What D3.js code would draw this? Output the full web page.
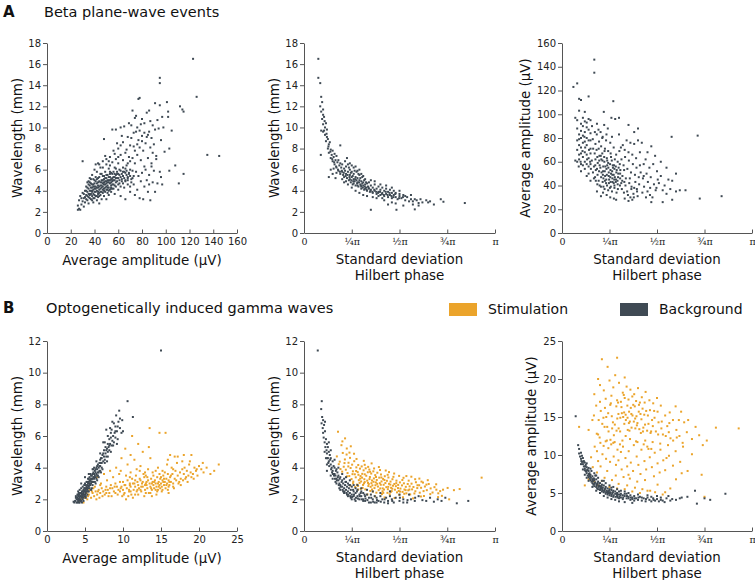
<!DOCTYPE html>
<html><head><meta charset="utf-8">
<script src="https://cdn.jsdelivr.net/npm/d3@7"></script>
<style>body{margin:0;background:#fff}svg{display:block}</style>
</head><body><svg id="c" width="755" height="580"></svg>
<script>
// ---------- DATA ----------
// Beta plane-wave events: [average amplitude (µV), wavelength (mm)]
const betaAmpWl = [[26,2.2],[27,2.3],[28,2.2],[26,2.6],[27,3.1],[28,3.5],[29,2.7],[30,3.0],[30,3.8],[31,2.5],[31,3.3],[32,4.0],[32,2.9],[33,3.6],[33,4.4],[34,3.1],[34,3.9],[34,4.8],[35,3.4],[35,4.2],[35,2.8],[36,3.7],[36,4.5],[36,5.2],[37,3.2],[37,4.0],[37,4.7],[38,3.5],[38,4.3],[38,3.9],[38,5.5],[39,2.9],[39,4.1],[39,4.6],[40,3.6],[40,4.2],[40,5.0],[40,3.3],[41,3.9],[41,4.4],[41,6.5],[42,3.1],[42,4.7],[42,4.0],[42,5.8],[43,3.7],[43,4.3],[43,5.2],[44,2.8],[44,4.1],[44,4.9],[44,3.5],[45,4.5],[45,3.9],[45,5.6],[45,6.2],[46,3.2],[46,4.3],[46,5.0],[47,4.7],[47,3.8],[47,5.4],[47,6.8],[48,4.2],[48,5.1],[48,3.5],[48,8.9],[49,4.6],[49,5.8],[49,3.9],[50,4.4],[50,5.2],[50,4.9],[50,6.5],[50,3.2],[51,4.1],[51,5.5],[51,4.8],[52,5.0],[52,4.3],[52,6.1],[52,3.6],[53,4.7],[53,5.3],[53,7.2],[54,4.5],[54,5.1],[54,3.9],[55,4.9],[55,5.6],[55,6.7],[55,4.2],[56,5.3],[56,4.6],[56,7.8],[57,5.0],[57,3.7],[57,6.2],[58,5.5],[58,4.4],[58,7.0],[59,4.9],[59,5.8],[60,5.2],[60,4.1],[60,6.6],[60,8.0],[61,5.5],[61,4.7],[62,5.3],[62,7.4],[62,3.5],[63,5.6],[63,4.9],[64,5.4],[64,6.9],[64,8.6],[65,5.2],[65,4.3],[66,5.7],[66,7.6],[66,3.2],[67,5.5],[67,6.4],[68,5.3],[68,9.1],[68,4.6],[69,5.6],[69,7.2],[70,5.4],[70,6.0],[70,8.3],[70,3.9],
[58,9.8],[62,8.3],[65,10.1],[67,7.9],[69,10.4],[71,9.0],[72,11.6],[73,8.2],[74,10.9],[74,6.6],[75,9.6],[76,7.4],[76,10.0],[77,8.8],[78,12.8],[78,9.7],[79,6.9],[80,9.2],[80,10.8],[81,7.8],[82,9.5],[82,6.3],[83,8.5],[84,11.4],[85,9.3],[85,7.1],[86,9.6],[86,11.6],[87,8.1],[88,9.0],[88,6.6],[89,10.2],[89,7.6],[90,8.4],[91,12.3],[91,9.8],[92,7.3],[93,10.7],[94,9.9],[95,12.1],[96,8.8],[97,11.0],[98,10.0],[101,12.4],[102,11.5],[102,11.0],[103,8.0],[105,9.7],[112,12.0],[114,11.7],[115,11.5],[95,14.7],[95,14.2],[123,16.5],[126,12.9],[77,12.7],
[72,5.2],[73,4.6],[74,3.6],[75,5.8],[76,4.1],[77,5.4],[78,3.3],[79,4.9],[80,5.7],[81,3.2],[82,4.4],[83,6.0],[84,5.0],[85,3.9],[86,5.5],[86,4.6],[87,3.1],[88,6.3],[89,4.8],[90,5.9],[91,3.9],[92,7.0],[93,4.7],[95,5.8],[96,5.3],[97,4.6],[99,7.7],[103,5.9],[108,6.4],[111,4.7],[115,5.6],[135,7.4],[145,7.3],[30,6.8],
[63,5.1],[65,5.8],[66,5.0],[67,5.9],[68,5.2],[69,5.7],[71,5.1],[72,5.9],[73,5.4],[71,4.8],[70,4.4],[64,5.8],[61,6.0],[59,5.6],[57,5.6],[58,6.1],
[36,4.0],[37,4.3],[38,4.6],[39,3.7],[40,4.7],[41,4.2],[42,3.5],[43,4.8],[44,4.4],[45,4.2],[46,4.8],[47,4.4],[48,4.0],[49,5.2],[50,4.7],[51,5.0],[52,4.8],[53,5.0],[54,4.8],[55,5.2],[56,5.0],[57,4.5],[33,3.2],[34,4.3],[35,3.7],[36,3.3],[39,5.1],[41,5.3],[43,3.9],[46,5.6],[48,4.6],[51,3.8],[53,4.1],[54,5.7],[40,6.0],[44,6.5],[52,6.8],[57,7.5],[60,7.2],[59,8.5],[63,9.2],[62,10.0],[55,9.8],[43,6.6],[47,6.2],[50,7.0],[53,6.4],[49,7.3],
[35,4.6],[36,3.6],[37,5.1],[38,3.1],[39,4.4],[40,3.9],[41,4.9],[42,4.3],[43,3.4],[44,5.3],[45,4.8],[46,3.9],[47,5.0],[48,4.8],[49,4.3],[50,5.5],[51,4.5],[52,4.0],[53,5.6],[54,4.2],[55,4.6],[56,5.8],[57,5.3],[58,4.8],[59,5.2],[60,4.6],[61,5.0],[62,4.4],[64,4.7],[66,4.9],[68,5.0],[29,3.3],[31,3.7],[33,4.0],[35,4.9],[37,3.7],[39,3.3],[41,3.5],[43,4.5],[45,3.6],[47,4.1],[49,4.9],[51,4.3],[53,5.8],[55,5.0],[32,3.4],[34,3.5],[36,4.8],[38,4.0],[40,4.4],[42,5.1],[44,3.8],[46,4.5],[48,5.4],[50,4.1],[52,5.3],[54,4.3],[56,4.2],[58,5.2],[60,5.6],[62,5.9],[64,6.2],[66,6.1],[68,6.6],[70,6.8],[72,7.1],[74,7.8],[76,8.4],[78,8.1],[80,8.7],[73,9.5],[71,10.2],[75,11.1],[82,10.4],[84,9.1],[87,10.6],[79,10.3]];

// Beta: [SD of Hilbert phase (units of π), wavelength (mm)]
const betaSdWl = [[0.075,16.5],[0.075,14.7],[0.085,14.2],[0.09,12.9],[0.095,12.4],[0.085,12.0],[0.09,11.5],[0.1,11.7],[0.1,11.2],[0.095,10.8],[0.105,11.0],[0.1,10.3],[0.11,10.0],[0.105,9.7],[0.115,10.4],[0.09,9.7],[0.11,9.3],[0.12,9.8],[0.12,9.1],[0.115,8.7],[0.125,8.9],[0.13,8.4],[0.125,8.0],[0.135,8.6],[0.14,7.9],[0.13,7.6],[0.145,7.4],[0.15,7.8],[0.14,7.1],[0.155,7.2],[0.16,7.5],[0.15,6.8],[0.165,6.9],[0.17,7.3],[0.16,6.5],[0.175,6.7],[0.18,6.9],[0.17,6.2],[0.185,6.4],[0.19,6.6],[0.18,5.9],[0.195,6.2],[0.2,6.5],[0.19,5.6],[0.2,5.8],[0.21,6.1],[0.205,5.5],[0.21,5.3],[0.088,7.4],[0.1,9.6],[0.13,5.3],[0.15,5.6],[0.14,6.0],[0.165,5.2],[0.19,8.3],[0.17,5.7],[0.155,6.1],
[0.215,5.9],[0.22,5.6],[0.22,6.3],[0.225,5.2],[0.23,5.8],[0.23,6.5],[0.235,5.0],[0.24,5.5],[0.24,6.0],[0.245,4.8],[0.25,5.3],[0.25,5.8],[0.255,4.6],[0.26,5.1],[0.26,5.6],[0.265,4.9],[0.27,5.3],[0.27,4.5],[0.275,5.8],[0.28,4.8],[0.28,5.2],[0.285,4.4],[0.29,5.0],[0.29,5.5],[0.295,4.6],[0.3,4.9],[0.3,4.2],[0.305,5.3],[0.31,4.5],[0.31,4.8],[0.315,4.1],[0.32,4.6],[0.32,5.1],[0.325,4.3],[0.33,4.7],[0.33,4.0],[0.335,4.4],[0.34,4.8],[0.34,4.2],[0.345,3.9],[0.35,4.5],[0.35,4.1],[0.215,6.8],[0.225,7.1],[0.24,6.6],[0.26,6.2],[0.28,5.9],[0.3,5.6],[0.23,4.6],[0.25,4.3],[0.27,4.0],[0.29,3.8],[0.31,3.6],[0.33,3.5],[0.2,5.1],[0.21,4.8],[0.235,6.2],[0.245,5.7],[0.255,5.4],[0.265,5.9],[0.275,5.0],[0.285,5.6],[0.295,5.2],[0.305,4.7],[0.315,5.0],[0.325,4.8],[0.22,4.9],[0.24,5.1],[0.26,4.7],[0.28,4.5],[0.3,4.4],[0.32,4.2],[0.25,6.4],[0.27,6.3],[0.29,6.0],[0.31,5.4],
[0.36,4.3],[0.36,3.8],[0.37,4.0],[0.37,4.6],[0.38,3.7],[0.38,4.2],[0.39,3.9],[0.39,4.4],[0.4,3.6],[0.4,4.1],[0.41,3.8],[0.41,4.3],[0.42,3.5],[0.42,4.0],[0.43,3.7],[0.43,4.2],[0.44,3.4],[0.44,3.9],[0.45,3.6],[0.45,4.1],[0.46,3.8],[0.46,3.3],[0.47,3.6],[0.47,4.0],[0.48,3.4],[0.48,3.8],[0.49,3.2],[0.5,3.5],[0.5,3.7],[0.51,3.3],[0.52,3.6],[0.53,3.1],[0.54,3.4],[0.55,3.0],[0.35,2.2],[0.46,2.9],[0.42,3.1],[0.38,3.3],[0.36,3.4],[0.44,2.7],[0.48,2.8],[0.52,2.6],[0.37,4.9],[0.4,4.6],[0.43,4.5],[0.46,4.3],[0.5,4.0],[0.35,5.0],[0.39,3.5],[0.41,3.3],
[0.56,3.2],[0.57,3.0],[0.58,3.2],[0.59,3.1],[0.6,2.84],[0.61,3.2],[0.62,2.9],[0.6,2.6],[0.58,2.24],[0.64,3.1],[0.65,2.9],[0.66,3.0],[0.68,2.7],[0.484,2.2],[0.57,2.7],[0.716,3.2],[0.73,2.96],[0.842,2.84],[0.53,3.5],[0.56,3.6],
[0.108,10.6],[0.118,9.4],[0.128,8.2],[0.138,7.7],[0.148,7.0],[0.158,6.7],[0.168,6.3],[0.178,6.0],[0.188,5.8],[0.198,5.9],[0.208,5.7],[0.218,5.4],[0.228,5.5],[0.238,5.3],[0.248,5.0],[0.258,4.9],[0.268,5.1],[0.278,4.7],[0.288,4.8],[0.298,4.5],[0.308,4.3],[0.318,4.4],[0.328,4.1],[0.338,4.3],[0.348,4.0],[0.358,3.9],[0.368,4.1],[0.378,3.9],[0.388,3.8],[0.398,3.9],[0.408,3.7],[0.418,3.6],[0.428,3.9],[0.438,3.6],[0.448,3.8],[0.458,3.5],[0.468,3.4],[0.478,3.7],[0.498,3.3],[0.518,3.4]];

// Beta: [SD of Hilbert phase (units of π), average amplitude (µV)]
const betaSdAmp = [[0.06,123],[0.08,126],[0.09,113],[0.1,112],[0.14,115],[0.17,146],[0.17,135],[0.12,102],[0.07,97],[0.08,95],[0.09,103],[0.1,92],[0.11,97],[0.08,88],[0.09,83],[0.1,86],[0.11,90],[0.12,94],[0.13,89],[0.14,96],[0.15,95],[0.08,78],[0.09,74],[0.1,80],[0.11,82],[0.12,85],[0.13,80],[0.14,87],[0.15,84],[0.08,70],[0.09,66],[0.1,72],[0.11,76],[0.12,68],[0.13,74],[0.14,78],[0.15,71],[0.08,60],[0.09,62],[0.1,58],[0.11,64],[0.12,60],[0.13,66],[0.14,63],[0.15,67],[0.1,52],[0.12,54],[0.13,48],[0.14,56],[0.15,58],[0.07,61],[0.1,67],[0.12,77],[0.13,93],[0.11,57],[0.14,50],[0.15,44],[0.15,78],[0.09,79],[0.13,58],
[0.158,90],[0.173,85],[0.184,92],[0.192,87],[0.203,85],[0.214,81],[0.222,91],[0.234,83],[0.241,88],[0.162,79],[0.176,75],[0.183,83],[0.195,77],[0.206,73],[0.212,80],[0.226,71],[0.232,78],[0.243,69],[0.254,76],[0.263,81],[0.272,72],[0.164,71],[0.172,67],[0.186,64],[0.193,71],[0.204,65],[0.213,61],[0.224,69],[0.236,63],[0.243,59],[0.256,67],[0.262,61],[0.274,57],[0.285,66],[0.293,60],[0.302,69],[0.157,61],[0.175,57],[0.184,54],[0.196,61],[0.202,55],[0.216,52],[0.223,60],[0.234,54],[0.246,51],[0.253,58],[0.264,52],[0.272,49],[0.283,56],[0.296,50],[0.304,58],[0.163,51],[0.174,47],[0.187,49],[0.193,44],[0.206,47],[0.214,43],[0.227,48],[0.233,45],[0.247,42],[0.254,47],[0.266,43],[0.276,40],[0.284,45],[0.293,41],[0.306,46],[0.186,41],[0.205,39],[0.224,37],[0.237,40],[0.243,36],[0.257,39],[0.263,35],[0.276,38],[0.287,34],[0.294,37],[0.305,40],[0.216,34],[0.235,32],[0.254,30],[0.205,31],[0.273,29],[0.285,28],[0.184,35],[0.265,46],[0.246,48],[0.225,52],[0.207,62],[0.255,53],[0.276,54],[0.217,56],[0.195,52],[0.236,49],[0.267,57],[0.286,51],[0.307,53],[0.176,62],[0.197,65],[0.295,47],[0.226,44],[0.244,55],[0.265,49],[0.256,43],[0.275,45],[0.215,49],[0.283,43],[0.26,97],[0.27,111],[0.22,102],[0.28,96],[0.3,97],[0.3,83],[0.32,74],
[0.228,56],[0.238,57],[0.248,45],[0.258,50],[0.268,55],[0.278,47],[0.288,53],[0.218,46],[0.208,51],[0.198,57],[0.188,59],[0.178,53],[0.168,56],[0.238,61],[0.258,64],[0.278,62],[0.298,55],[0.318,48],[0.328,43],[0.232,42],[0.252,38],[0.272,42],[0.292,44],[0.312,42],[0.222,64],[0.212,67],[0.182,70],[0.142,70],[0.132,62],[0.122,72],[0.118,81],[0.108,69],[0.098,60],[0.088,56],[0.152,54],[0.148,60],[0.168,46],[0.178,44],[0.198,40],[0.218,39],
[0.313,62],[0.324,57],[0.332,64],[0.344,54],[0.352,61],[0.363,51],[0.373,58],[0.384,49],[0.392,55],[0.404,47],[0.306,50],[0.317,44],[0.327,53],[0.336,46],[0.354,42],[0.357,46],[0.366,39],[0.386,43],[0.394,37],[0.406,41],[0.315,37],[0.326,34],[0.334,40],[0.343,35],[0.347,32],[0.365,37],[0.376,33],[0.378,30],[0.395,35],[0.398,31],[0.33,29],[0.35,27],[0.37,28],[0.31,72],[0.33,70],[0.35,68],[0.37,66],[0.39,63],[0.41,68],[0.43,58],[0.34,78],[0.36,76],[0.38,75],[0.4,78],[0.42,76],[0.35,91],[0.38,85],[0.4,88],[0.414,51],[0.426,46],[0.432,39],[0.445,50],[0.452,43],[0.464,38],[0.467,47],[0.484,41],[0.493,36],[0.504,45],[0.423,34],[0.442,30],[0.463,32],[0.476,30],[0.497,38],[0.44,62],[0.46,55],[0.48,58],[0.5,52],[0.45,68],[0.47,73],[0.49,65],[0.41,57],[0.43,48],[0.45,35],[0.47,26],[0.38,38],[0.36,30],
[0.51,42],[0.52,48],[0.53,36],[0.54,40],[0.55,33],[0.56,45],[0.57,37],[0.58,28],[0.6,35],[0.6,50],[0.62,36],[0.65,36],[0.577,81],[0.55,55],[0.52,60],[0.53,26],[0.714,82],[0.725,29],[0.84,31],[0.58,44]];

// Optogenetic gamma waves: [average amplitude (µV), wavelength (mm)]
const gammaStimAmpWl = [[4.2,1.9],[4.5,2.0],[4.8,1.8],[5.0,2.1],[5.3,2.0],[5.5,2.3],[5.8,2.1],[6.0,2.4],[6.2,2.2],[6.4,2.5],[6.6,2.3],[6.8,2.6],[7.0,2.4],[7.2,2.7],[7.4,2.5],[7.6,2.3],[7.8,2.8],[8.0,2.6],[8.2,2.4],[8.4,2.9],[8.6,2.7],[8.8,2.5],[9.0,3.0],[9.2,2.8],[9.4,2.6],[5.6,2.6],[6.3,2.8],[7.1,3.0],[7.9,3.2],[8.7,3.4],[9.5,3.6],[6.9,2.1],[8.1,2.2],[5.2,2.4],[4.7,2.3],[6.6,3.4],[7.5,3.6],[8.3,3.8],[9.1,4.0],[9.8,4.6],[10.3,5.2],[11.2,6.0],[13.5,6.5],[15.6,6.2],[13.4,5.3],[12.0,5.5],[9.7,3.8],[10.6,4.2],[11.5,4.5],[12.3,4.1],
[9.6,2.5],[9.8,2.8],[10.0,2.6],[10.0,3.1],[10.2,2.4],[10.3,2.9],[10.5,2.7],[10.6,3.2],[10.8,2.5],[10.9,3.0],[11.0,2.8],[11.1,2.3],[11.2,3.3],[11.4,2.6],[11.5,3.0],[11.6,2.8],[11.8,2.5],[11.9,3.1],[12.0,2.9],[12.1,2.7],[12.3,3.2],[12.4,2.5],[12.5,3.0],[12.6,2.8],[12.8,3.4],[12.9,2.6],[13.0,3.0],[13.1,2.9],[13.2,2.7],[13.3,3.2],[13.4,2.4],[13.5,3.0],[13.6,2.8],[13.7,3.3],[13.8,2.6],[13.9,3.1],[14.0,2.9],[14.1,2.7],[14.2,3.2],[14.3,3.0],[14.4,2.8],[14.5,3.4],[14.6,2.6],[14.7,3.1],[14.8,2.9],[14.9,3.3],[15.0,3.0],[15.1,2.8],[15.2,3.2],[15.3,3.5],[15.4,2.9],[15.5,3.1],[15.6,2.7],[15.7,3.3],[15.8,3.0],[15.9,3.6],[16.0,3.2],[16.1,2.9],[16.2,3.4],[16.3,3.1],[16.5,3.6],[16.6,3.0],[16.8,3.3],[16.9,3.8],[17.0,3.2],[10.4,3.5],[11.0,3.7],[11.7,3.5],[12.2,3.8],[12.7,3.6],[13.3,3.9],[13.9,3.7],[14.6,4.0],[15.2,3.8],[15.8,4.2],[16.4,4.0],[17.1,4.3],[9.9,2.2],[10.7,2.2],[11.3,2.1],[12.0,2.3],[12.8,2.2],[13.6,2.4],[14.4,2.3],[15.1,2.5],[15.9,2.6],[16.7,2.7],[14.0,3.5],[14.8,3.6],[15.5,3.7],[13.0,3.5],[12.2,3.3],[11.3,3.0],[10.8,2.6],[11.9,2.6],[12.9,2.9],[13.7,2.7],[14.3,2.6],[14.9,2.7],[15.4,3.3],[16.0,2.8],[15.0,3.4],[14.1,3.1],[13.2,3.4],[12.6,3.1],[14.6,3.0],[15.7,2.9],[16.3,3.5],[13.8,3.0],[13.1,3.1],[12.4,2.8],[11.6,3.2],[10.9,2.9],[14.7,2.8],[15.3,3.1],[16.1,3.1],
[17.2,3.5],[17.3,3.0],[17.5,3.7],[17.6,3.3],[17.8,3.9],[17.9,3.2],[18.0,3.6],[18.1,4.0],[18.3,3.4],[18.4,3.8],[18.6,3.5],[18.7,4.2],[18.9,3.7],[19.0,4.8],[19.2,3.6],[19.4,4.0],[19.6,3.8],[19.8,3.5],[20.0,4.1],[20.3,3.9],[20.6,3.7],[21.0,4.0],[21.5,3.6],[22.0,3.8],[22.6,4.2],[18.0,4.8],[17.2,4.7],[18.5,3.1],[19.3,3.3],[17.6,2.9],[16.8,4.7],[16.2,4.8],[14.8,6.2],[13.6,4.6],[11.0,4.8],[12.6,5.0],[15.9,4.5],
[5.4,2.2],[5.9,2.5],[6.5,2.0],[7.3,2.2],[7.7,2.6],[8.5,2.2],[8.9,2.8],[9.3,2.3],[9.7,2.7],[10.1,2.3],[10.4,2.0],[6.1,2.7],[6.7,2.5],[7.0,2.9],[7.8,2.4],[8.3,2.7],[9.0,2.4],[9.6,3.1],[10.2,2.9],[11.0,2.5],[11.6,2.3],[12.3,2.6],[13.0,2.4],[13.8,2.2],[14.5,2.5],[15.2,2.6],[16.0,2.4],[16.6,2.8],[17.4,3.1],[18.2,3.3],[19.0,3.4],[19.7,3.9],[20.5,4.3],[12.9,3.7],[11.8,3.9],[10.9,3.4],[14.3,3.8],[16.6,3.9],[17.8,4.4],[18.8,4.4]];
const gammaBgAmpWl = [[3.5,1.85],[3.7,1.9],[3.8,2.1],[3.9,1.8],[4.0,2.0],[4.0,2.3],[4.1,1.9],[4.1,2.2],[4.2,2.0],[4.2,2.4],[4.3,1.8],[4.3,2.1],[4.3,2.6],[4.4,2.2],[4.4,2.0],[4.5,2.4],[4.5,1.9],[4.5,2.7],[4.6,2.1],[4.6,2.5],[4.7,2.3],[4.7,2.0],[4.7,2.8],[4.8,2.4],[4.8,2.6],[4.8,2.1],[4.9,2.5],[4.9,2.9],[5.0,2.3],[5.0,2.7],[5.0,3.0],[5.1,2.6],[5.1,2.4],[5.2,2.8],[5.2,3.1],[5.2,2.5],[5.3,2.9],[5.3,2.6],[5.4,3.0],[5.4,2.7],[5.4,3.3],[5.5,2.8],[5.5,3.1],[5.6,3.0],[5.6,3.4],[5.6,2.7],[5.7,3.2],[5.7,2.9],[5.8,3.3],[5.8,3.0],[5.9,3.5],[5.9,3.1],[6.0,3.3],[6.0,3.6],[6.0,2.9],[6.1,3.4],[6.1,3.1],[6.2,3.6],[6.2,3.3],[6.3,3.5],[6.3,3.8],[6.4,3.4],[6.4,3.7],[6.5,3.6],[6.5,4.0],[6.6,3.9],[6.6,3.5],[6.7,3.7],[6.7,4.2],[6.8,4.0],[6.9,4.3],[6.9,3.8],[7.0,4.1],[7.0,4.5],[7.1,4.3],[7.2,4.6],[7.2,4.0],[7.3,4.8],[7.4,4.4],[7.5,4.7],[7.5,5.1],[7.6,4.5],[7.7,4.9],[7.7,5.3],[7.8,4.7],[7.9,5.2],[8.0,5.0],[8.0,5.5],[8.1,5.3],[8.2,5.8],[8.2,5.1],[8.3,5.5],[8.4,5.9],[8.5,5.4],[8.5,6.4],[8.6,5.7],[8.7,6.0],[8.8,5.6],[8.9,6.2],[9.0,5.9],[9.0,6.6],[9.2,6.3],[9.3,5.8],[9.4,6.9],[9.5,7.6],[9.6,6.5],[9.8,6.2],[10.0,6.3],[10.6,8.2],[11.3,7.2],[8.3,6.5],[7.8,6.4],[7.4,5.6],[15.0,11.4],[4.4,2.4],[4.6,1.8],[4.2,2.2],[4.9,2.2],[5.3,2.3],[4.0,1.8],[3.6,1.8],[5.7,3.6],[6.2,4.0],[6.8,3.4],[7.1,3.7],[5.9,2.7],[6.6,3.2],[4.5,3.0],[5.0,3.4],[5.5,3.6],[6.0,3.9],[6.5,4.4],[7.0,4.9],[7.6,5.6],[8.0,6.0],[4.8,1.9],[5.1,2.1],[5.8,2.6],[6.4,3.0],[7.3,3.9],[8.6,6.9],[9.1,7.3],[8.8,6.8],[9.9,7.0],[7.9,4.4],[8.4,5.0],[9.2,5.5],[4.1,2.5],[4.3,2.3],[4.7,2.2],[5.1,2.9],[5.5,2.5],[5.6,3.2],[6.1,3.7],[6.7,3.5],
[3.8,2.2],[3.9,2.0],[4.0,2.1],[4.1,2.3],[4.2,1.8],[4.3,2.4],[4.4,1.9],[4.5,2.2],[4.6,2.3],[4.7,2.5],[4.8,2.3],[4.9,2.7],[5.0,2.5],[5.1,2.2],[5.2,2.7],[5.3,3.1],[5.4,2.5],[5.5,3.3],[5.6,2.9],[5.7,3.0],[5.8,3.5],[5.9,3.3],[6.0,3.1],[6.1,3.9],[6.2,3.4],[6.3,3.1],[6.4,3.9],[6.5,3.3],[6.6,4.1],[6.8,3.7],[6.9,4.1],[7.0,3.8],[7.1,4.6],[7.2,4.3],[7.4,4.9],[7.6,4.3],[7.8,5.1],[8.0,4.7],[8.2,5.4],[8.4,6.2],[8.7,5.4],[9.0,6.3],[9.3,6.6],[9.6,7.1],[4.15,2.05],[4.35,1.95],[4.55,2.15],[4.65,2.35],[4.85,2.55],[5.05,2.65],[5.25,2.75],[5.45,2.85],[5.65,3.15],[5.85,3.25]];

// Gamma: [SD of Hilbert phase (units of π), wavelength (mm)]
const gammaStimSdWl = [[0.178,6.27],[0.196,5.42],[0.172,4.71],[0.187,4.38],[0.203,4.93],[0.214,4.52],[0.208,4.06],[0.223,4.83],[0.219,3.87],[0.233,4.31],[0.228,3.66],[0.241,4.62],[0.244,3.98],[0.237,3.47],[0.252,4.19],[0.256,3.77],[0.249,3.28],[0.263,4.41],[0.266,3.58],[0.258,3.12],[0.274,4.02],[0.271,3.39],[0.277,2.93],[0.284,4.17],[0.281,3.72],[0.287,3.21],[0.293,3.94],[0.296,3.47],[0.291,3.04],[0.302,4.08],[0.305,3.61],[0.299,3.13],[0.307,2.72],[0.312,3.83],[0.316,3.27],[0.309,2.91],[0.323,3.96],[0.326,3.49],[0.318,3.09],[0.321,2.63],[0.334,3.71],[0.331,3.18],[0.337,2.84],[0.342,3.88],[0.345,3.41],[0.339,2.97],[0.347,2.53],[0.352,3.63],[0.356,3.19],[0.349,2.79],[0.363,3.77],[0.366,3.32],[0.358,2.88],[0.361,2.49],[0.373,3.53],[0.376,3.07],[0.369,2.71],[0.384,3.68],[0.381,3.22],[0.387,2.81],[0.379,2.42],[0.394,3.37],[0.397,3.02],[0.391,2.58],[0.403,3.57],[0.406,3.13],[0.399,2.69],[0.408,2.33],[0.414,3.29],[0.417,2.92],[0.411,2.51],[0.423,3.46],[0.426,3.03],[0.419,2.62],[0.434,3.17],[0.431,2.77],[0.437,2.41],[0.442,3.38],[0.445,2.98],[0.439,2.64],[0.453,3.12],[0.456,2.73],[0.449,2.32],[0.463,3.27],[0.466,2.86],[0.459,2.52],[0.473,2.97],[0.476,2.61],[0.484,3.18],[0.481,2.83],[0.487,2.44],[0.493,2.91],[0.496,2.53],[0.502,3.07],[0.505,2.68],[0.499,2.28],[0.513,2.88],[0.516,2.47],[0.523,3.01],[0.526,2.62],[0.533,2.79],[0.536,2.38],[0.543,2.97],[0.546,2.57],[0.553,2.82],[0.556,2.31],[0.563,2.99],[0.566,2.63],[0.573,2.78],[0.583,2.51],[0.586,3.08],[0.593,2.71],[0.603,2.89],[0.606,2.42],[0.613,2.73],[0.623,3.06],[0.626,2.52],[0.633,2.81],[0.643,2.58],[0.653,2.97],[0.663,2.69],[0.673,2.43],[0.683,2.77],[0.693,2.61],[0.703,2.38],[0.713,2.52],[0.722,2.22],[0.76,2.0],[0.815,2.65],[0.93,3.37],
[0.604,3.31],[0.562,3.43],[0.521,3.36],[0.472,3.63],[0.428,3.82],[0.392,4.04],[0.354,4.27],[0.313,4.43],[0.262,4.88],[0.224,5.21],[0.201,5.66],[0.243,2.87],[0.283,2.62],[0.332,2.31],[0.372,2.19],[0.422,2.12],[0.474,2.08],[0.518,2.13],[0.571,2.06],[0.628,2.21],[0.661,2.33],[0.353,3.02],[0.294,3.31],[0.254,3.59],[0.314,3.01],[0.383,2.98],[0.441,2.79],[0.412,2.69],[0.492,2.71],[0.532,2.58],[0.335,3.04],[0.374,2.89],[0.402,2.92],[0.462,2.67],[0.503,2.49],[0.552,2.62],[0.594,2.89],[0.641,2.93],[0.304,3.37],[0.343,3.28],[0.452,2.93],[0.483,3.02],[0.421,3.22],[0.364,3.11],[0.273,3.79],[0.232,4.08],[0.212,4.29],[0.191,3.91],[0.182,4.22],
[0.285,3.55],[0.318,3.58],[0.346,3.74],[0.377,3.41],[0.405,3.38],[0.438,3.55],[0.468,3.42],[0.515,3.22],[0.548,3.18],[0.582,3.27],[0.615,3.12],[0.648,3.21],[0.692,2.95],[0.728,2.61],[0.752,2.72],[0.785,2.58],[0.702,2.14],[0.268,2.78],[0.297,2.66],[0.356,2.62],[0.415,2.41],[0.455,2.48],[0.525,2.35],[0.578,2.37],[0.612,2.18],[0.245,5.35],[0.215,5.85],[0.238,4.95],[0.275,4.55],[0.318,4.18],[0.336,4.05],[0.398,3.85],[0.445,3.72],[0.498,3.48],[0.536,3.47],[0.367,3.95],[0.2,3.75],[0.225,3.45],[0.257,3.02],[0.283,2.85]];
const gammaBgSdWl = [[0.072,11.4],[0.093,8.2],[0.09,7.7],[0.095,7.2],[0.092,6.8],[0.1,7.0],[0.098,6.5],[0.1,6.2],[0.105,6.7],[0.103,5.9],[0.11,6.3],[0.108,5.6],[0.112,5.3],[0.115,5.8],[0.118,5.1],[0.12,5.5],[0.12,4.9],[0.125,5.3],[0.125,4.6],[0.13,5.0],[0.13,4.4],[0.135,4.8],[0.14,4.2],[0.14,4.6],[0.145,4.0],[0.15,4.4],[0.15,3.8],[0.155,4.1],[0.16,3.6],[0.16,4.0],[0.165,3.5],[0.17,3.9],[0.17,3.3],[0.175,3.7],[0.18,3.2],[0.18,3.5],[0.185,3.0],[0.19,3.4],[0.19,2.9],[0.2,3.2],[0.2,2.8],[0.205,3.0],[0.21,2.7],[0.21,3.3],[0.215,2.9],[0.22,2.6],[0.22,3.1],[0.225,2.8],[0.23,2.5],[0.23,3.0],[0.235,2.7],[0.24,2.4],[0.24,2.9],[0.245,2.6],[0.25,2.3],[0.25,2.8],[0.26,2.5],[0.26,2.2],[0.27,2.7],[0.27,2.4],[0.28,2.2],[0.28,2.6],[0.29,2.3],[0.29,2.0],[0.3,2.5],[0.3,2.2],[0.31,2.4],[0.31,2.0],[0.32,2.2],[0.32,1.9],[0.33,2.3],[0.34,2.1],[0.34,1.8],[0.35,2.3],[0.36,2.0],[0.37,2.2],[0.37,1.8],[0.38,2.1],[0.39,1.9],[0.4,2.2],[0.41,2.0],[0.42,1.8],[0.43,2.1],[0.44,1.9],[0.45,2.2],[0.46,2.0],[0.47,1.8],[0.48,2.1],[0.5,1.9],[0.52,2.0],[0.54,1.8],[0.56,2.0],[0.58,1.9],[0.62,1.95],[0.66,2.1],[0.7,2.0],[0.74,2.1],[0.8,1.75],[0.86,1.9],[0.13,5.6],[0.11,6.9],[0.115,4.6],[0.12,4.2],[0.15,3.3],[0.17,3.0],[0.16,4.5],[0.14,5.1],[0.18,4.0],[0.2,3.6],[0.22,3.4],[0.24,3.2],[0.26,2.9],[0.28,2.9],[0.3,2.7],[0.33,2.6],[0.36,2.5],[0.4,2.4],[0.45,2.5],[0.5,2.3],[0.55,2.3],[0.6,2.2],[0.64,1.9],[0.68,1.85],[0.72,1.9],[0.19,2.6],[0.21,2.4],[0.23,2.2],[0.25,2.0],[0.27,1.9],[0.35,1.8],[0.44,1.75],[0.52,1.8],[0.12,3.8],[0.14,3.5],[0.165,3.1],[0.185,2.7],[0.205,2.5],[0.225,2.3],[0.245,2.1],[0.265,2.0],[0.31,1.9],[0.38,1.8],
[0.122,4.6],[0.132,4.1],[0.142,3.9],[0.152,3.6],[0.162,3.3],[0.172,3.2],[0.182,2.9],[0.192,2.8],[0.202,2.6],[0.212,2.5],[0.222,2.4],[0.232,2.3],[0.242,2.2],[0.252,2.15],[0.262,2.3],[0.272,2.1],[0.282,2.05],[0.292,2.2],[0.302,2.0],[0.322,2.05],[0.332,1.95],[0.352,2.1],[0.362,1.85],[0.382,1.95],[0.402,1.85],[0.422,2.0],[0.462,1.9],[0.502,2.1],[0.542,1.95],[0.582,2.1],[0.108,5.0],[0.127,4.3],[0.137,4.5],[0.147,3.7],[0.157,3.5],[0.167,3.8],[0.177,3.4],[0.187,3.3],[0.197,3.1],[0.217,3.1],[0.237,2.9],[0.257,2.6],[0.277,2.5],[0.297,2.4],[0.317,2.3]];

// Gamma: [SD of Hilbert phase (units of π), average amplitude (µV)]
const gammaStimSdAmp = [[0.21,22.6],[0.29,22.8],[0.24,21.6],[0.19,20.0],[0.2,19.2],[0.22,18.5],[0.25,19.8],[0.27,18.9],[0.3,19.5],[0.32,18.2],[0.34,19.0],[0.36,18.6],[0.38,18.0],[0.4,18.8],[0.42,17.6],[0.44,18.3],[0.23,17.4],[0.26,17.8],[0.29,17.2],[0.31,17.0],[0.33,17.5],[0.35,17.3],[0.37,17.7],[0.39,17.1],[0.41,16.9],[0.46,17.2],[0.48,16.8],[0.2,17.0],[0.17,18.0],[0.28,20.5],[0.33,20.2],[0.5,17.5],[0.52,16.5],[0.18,16.5],
[0.168,15.2],[0.193,14.6],[0.204,15.8],[0.212,14.1],[0.226,16.2],[0.233,15.0],[0.238,13.7],[0.254,16.6],[0.262,15.1],[0.268,14.3],[0.286,16.4],[0.291,14.8],[0.298,13.5],[0.313,16.3],[0.322,15.0],[0.328,14.1],[0.344,16.5],[0.353,15.7],[0.357,14.4],[0.366,13.6],[0.383,16.4],[0.392,15.1],[0.397,14.2],[0.407,13.4],[0.424,16.1],[0.433,15.3],[0.437,14.0],[0.448,13.2],[0.463,15.9],[0.474,14.6],[0.478,13.8],[0.494,13.1],[0.503,15.7],[0.508,14.3],[0.523,13.5],[0.531,12.7],[0.543,15.2],[0.554,13.8],[0.562,13.0],[0.571,12.2],[0.584,14.6],[0.602,13.3],[0.618,12.5],[0.643,14.3],[0.657,13.0],[0.684,12.1],[0.183,12.8],[0.198,12.3],[0.224,13.7],[0.236,11.9],[0.264,13.5],[0.277,11.7],[0.306,13.1],[0.318,11.9],[0.346,13.3],[0.358,12.1],[0.386,13.5],[0.397,11.7],[0.426,13.1],[0.438,11.9],[0.466,12.9],[0.477,11.7],[0.506,12.7],[0.517,11.5],[0.546,12.5],[0.558,11.3],[0.604,12.3],[0.09,13.7],[0.14,13.3],[0.19,12.7],[0.16,14.6],[0.81,13.6],[0.93,13.5],[0.703,13.7],[0.722,12.6],[0.741,11.3],[0.762,11.9],[0.664,14.6],[0.627,15.7],[0.598,16.4],[0.567,15.6],[0.352,14.2],[0.371,15.2],[0.394,13.9],[0.327,15.6],[0.307,14.9],[0.287,13.2],[0.273,12.6],[0.413,15.4],[0.428,13.6],[0.452,15.2],[0.469,13.1],[0.487,14.9],[0.362,16.2],[0.378,14.4],[0.404,15.7],[0.336,14.6],[0.418,14.7],[0.443,15.8],[0.297,15.4],[0.278,14.0],[0.257,16.8],[0.243,15.5],[0.218,14.9],
[0.315,15.5],[0.335,15.3],[0.345,14.9],[0.365,15.4],[0.385,14.8],[0.375,16.6],[0.355,13.2],[0.415,12.9],[0.455,14.1],[0.335,12.5],[0.295,16.9],[0.325,17.9],[0.405,16.6],[0.435,16.9],[0.485,15.8],[0.525,14.4],[0.565,14.2],[0.615,14.6],[0.585,11.9],[0.635,11.6],[0.305,11.4],[0.245,13.1],[0.455,10.8],[0.255,12.0],
[0.172,11.1],[0.184,10.5],[0.202,11.6],[0.213,10.1],[0.219,11.2],[0.232,9.5],[0.244,10.9],[0.253,9.1],[0.259,11.4],[0.272,9.8],[0.284,8.7],[0.292,10.7],[0.297,9.3],[0.314,8.1],[0.321,11.1],[0.334,9.6],[0.343,8.5],[0.351,10.5],[0.362,9.0],[0.374,7.9],[0.378,11.3],[0.393,9.8],[0.402,8.7],[0.413,7.5],[0.418,10.7],[0.434,9.2],[0.443,8.1],[0.449,11.1],[0.462,9.7],[0.473,8.4],[0.484,7.2],[0.488,10.3],[0.503,8.9],[0.514,7.7],[0.518,10.7],[0.533,9.3],[0.543,8.0],[0.563,9.9],[0.584,8.6],[0.598,10.5],[0.622,9.1],[0.637,11.1],[0.661,7.9],[0.684,10.1],[0.153,9.7],[0.162,8.4],[0.184,7.7],[0.203,8.5],[0.224,7.0],[0.238,7.9],[0.263,6.7],[0.283,7.3],[0.298,6.2],[0.324,7.1],[0.343,6.0],[0.357,6.9],[0.384,5.7],[0.396,6.5],[0.423,5.5],[0.437,6.7],[0.464,5.3],[0.503,6.1],[0.543,5.1],[0.735,7.4],[0.75,4.5],[0.12,6.0],[0.14,6.8],[0.17,6.5],[0.19,6.0],[0.21,6.6],[0.25,5.8],[0.29,5.6],[0.33,5.5],[0.37,5.2],[0.41,5.0],[0.45,5.3],[0.49,5.1],[0.53,4.8],[0.57,5.6],[0.6,6.8],[0.63,7.6],[0.35,7.4],[0.31,10.4],[0.27,11.6],[0.23,11.8],[0.19,9.2],[0.47,10.8],[0.43,11.4],[0.39,11.8],[0.55,9.6]];
const gammaBgSdAmp = [[0.072,15.1],[0.085,11.3],[0.09,10.8],[0.09,10.2],[0.095,9.8],[0.1,10.3],[0.1,9.5],[0.105,9.9],[0.105,9.1],[0.11,9.6],[0.11,8.8],[0.115,9.2],[0.115,8.5],[0.12,9.0],[0.12,8.2],[0.125,8.7],[0.125,7.9],[0.13,8.4],[0.13,7.6],[0.135,8.1],[0.135,7.3],[0.14,7.9],[0.14,7.1],[0.145,7.6],[0.145,6.9],[0.15,7.4],[0.15,6.7],[0.155,7.9],[0.155,6.5],[0.16,7.2],[0.16,6.3],[0.165,6.9],[0.165,6.1],[0.17,6.7],[0.17,5.9],[0.175,7.3],[0.175,6.4],[0.18,6.8],[0.18,5.8],[0.185,6.2],[0.185,5.6],[0.19,6.5],[0.19,5.5],[0.195,6.0],[0.2,6.3],[0.2,5.4],[0.205,5.8],[0.21,6.1],[0.21,5.2],[0.215,5.7],[0.22,6.0],[0.22,5.1],[0.225,5.5],[0.23,5.8],[0.23,4.9],[0.235,5.3],[0.24,5.6],[0.24,4.8],[0.245,5.2],[0.25,5.5],[0.25,4.7],[0.255,5.1],[0.26,5.4],[0.26,4.6],[0.265,5.0],[0.27,5.3],[0.27,4.5],[0.28,4.9],[0.28,5.2],[0.29,4.6],[0.29,5.0],[0.3,4.8],[0.3,4.3],[0.31,4.9],[0.31,4.4],[0.32,4.7],[0.32,4.2],[0.33,4.6],[0.34,4.3],[0.34,4.9],[0.35,4.5],[0.36,4.1],[0.36,4.7],[0.37,4.4],[0.38,4.0],[0.38,4.6],[0.39,4.3],[0.4,4.1],[0.41,4.5],[0.42,4.0],[0.43,4.3],[0.44,3.9],[0.45,4.4],[0.46,4.1],[0.47,3.9],[0.48,4.3],[0.49,4.0],[0.5,4.2],[0.51,3.9],[0.52,4.4],[0.53,4.0],[0.54,3.8],[0.55,4.3],[0.56,4.6],[0.58,4.2],[0.6,4.1],[0.63,4.4],[0.66,4.5],[0.7,5.3],[0.71,3.6],[0.75,4.3],[0.78,4.1],[0.86,4.9],[0.12,7.4],[0.14,6.6],[0.16,5.8],[0.18,5.3],[0.2,5.0],[0.22,4.6],[0.24,4.4],[0.26,4.2],[0.28,4.1],[0.3,3.9],[0.33,3.8],[0.37,3.7],[0.11,8.1],[0.13,8.9],[0.15,8.2],[0.17,7.6],[0.19,7.0],[0.21,6.6],[0.23,6.3],[0.25,6.0],[0.27,5.8],[0.29,5.5],[0.31,5.3],[0.33,5.2],[0.35,5.0],[0.4,4.8],[0.45,4.7],[0.5,4.6],[0.13,7.0],[0.17,6.2],[0.21,5.6],[0.25,5.0],[0.29,4.8],[0.33,4.9],[0.37,4.2],[0.42,4.4],[0.47,4.5],[0.52,4.1],[0.57,4.0],[0.62,4.3],[0.1,8.8],[0.14,8.3],[0.18,7.3],[0.22,6.6],[0.26,5.7],[0.3,5.2],[0.35,4.3],[0.24,5.2],[0.2,5.9],[0.16,6.8],[0.12,8.0],
[0.102,9.2],[0.112,9.1],[0.122,8.5],[0.132,8.0],[0.142,7.5],[0.152,7.0],[0.162,6.6],[0.172,6.3],[0.182,6.1],[0.192,5.8],[0.202,5.6],[0.212,5.4],[0.222,5.3],[0.232,5.1],[0.242,5.0],[0.252,4.9],[0.262,4.8],[0.272,4.7],[0.282,4.5],[0.292,4.4],[0.302,4.5],[0.322,4.4],[0.342,4.6],[0.362,4.4],[0.382,4.3],[0.402,4.4],[0.442,4.2],[0.482,4.1],[0.128,7.8],[0.148,7.2],[0.168,6.9],[0.188,6.3],[0.208,5.9],[0.228,5.6],[0.248,5.3],[0.268,5.1],[0.288,4.9],[0.308,4.7],[0.143,7.3],[0.163,6.6],[0.183,6.0],[0.203,5.6],[0.223,5.3],[0.243,5.0]];

// Ticks and labels
const ampTicksBeta = [0,20,40,60,80,100,120,140,160];
const wlTicksBeta = [0,2,4,6,8,10,12,14,16,18];
const ampTicksGamma = [0,5,10,15,20,25];
const wlTicksGamma = [0,2,4,6,8,10,12];
const sdTicks = [0,0.25,0.5,0.75,1];
const sdTickLabels = ["0","¼π","½π","¾π","π"];
const seriesNames = ["Stimulation","Background"];
const seriesColors = ["#eba42b","#3f4a54"];

// ---------- DRAW ----------
const svg = d3.select("#c");
const SANS = "DejaVu Sans";
const cols = [[47,237],[304,495],[562,752]];
const rows = [[43,233],[341,531]];

function panel(o){
  const [xl,xr] = cols[o.col], [yt,yb] = rows[o.row];
  const x = d3.scaleLinear().domain([o.xTicks[0], o.xTicks[o.xTicks.length-1]]).range([xl,xr]);
  const y = d3.scaleLinear().domain([o.yTicks[0], o.yTicks[o.yTicks.length-1]]).range([yb,yt]);
  const g = svg.append("g");
  o.series.forEach(s=>{
    g.append("g").selectAll("rect").data(s.data).join("rect")
      .attr("x",d=>x(d[0])-1).attr("y",d=>y(d[1])-1)
      .attr("width",2).attr("height",2).attr("fill",s.color);
  });
  const xa = d3.axisBottom(x).tickValues(o.xTicks).tickSizeInner(-3.5).tickSizeOuter(0).tickPadding(5)
    .tickFormat((d,i)=> o.xLabels ? o.xLabels[i] : d);
  const gx = g.append("g").attr("transform",`translate(0,${yb})`).call(xa);
  const ya = d3.axisLeft(y).tickValues(o.yTicks).tickSizeInner(4).tickSizeOuter(0).tickPadding(2);
  const gy = g.append("g").attr("transform",`translate(${xl},0)`).call(ya);
  [gx,gy].forEach(a=>{
    a.attr("font-family",SANS).attr("font-size",10);
    a.selectAll("path.domain").attr("stroke","#555");
    a.selectAll(".tick line").attr("stroke","#555");
    a.selectAll(".tick text").attr("fill","#222");
  });
  if(o.xLabels){ gx.selectAll(".tick text").attr("font-family","DejaVu Serif").attr("font-size",9.5); }
  const t = g.append("text").attr("font-family",SANS).attr("font-size",13.4).attr("fill","#111")
    .attr("text-anchor","middle");
  if(o.xTitle.length===1){
    t.attr("x",(xl+xr)/2).attr("y",yb+31.5).text(o.xTitle[0]);
  } else {
    t.attr("x",(xl+xr)/2).attr("y",yb+31).text(o.xTitle[0]);
    g.append("text").attr("font-family",SANS).attr("font-size",13.4).attr("fill","#111")
      .attr("text-anchor","middle").attr("x",(xl+xr)/2).attr("y",yb+46.5).text(o.xTitle[1]);
  }
  g.append("text").attr("font-family",SANS).attr("font-size",13.4).attr("fill","#111")
    .attr("text-anchor","middle").attr("transform",`translate(${o.yTitleX},${(yt+yb)/2}) rotate(-90)`)
    .text(o.yTitle);
}

const dark = seriesColors[1], orange = seriesColors[0];
panel({col:0,row:0,xTicks:ampTicksBeta,yTicks:wlTicksBeta,xTitle:["Average amplitude (µV)"],yTitle:"Wavelength (mm)",yTitleX:22,series:[{data:betaAmpWl,color:dark}]});
panel({col:1,row:0,xTicks:sdTicks,xLabels:sdTickLabels,yTicks:wlTicksBeta,xTitle:["Standard deviation","Hilbert phase"],yTitle:"Wavelength (mm)",yTitleX:279,series:[{data:betaSdWl,color:dark}]});
panel({col:2,row:0,xTicks:sdTicks,xLabels:sdTickLabels,yTicks:ampTicksBeta,xTitle:["Standard deviation","Hilbert phase"],yTitle:"Average amplitude (µV)",yTitleX:530,series:[{data:betaSdAmp,color:dark}]});
panel({col:0,row:1,xTicks:ampTicksGamma,yTicks:wlTicksGamma,xTitle:["Average amplitude (µV)"],yTitle:"Wavelength (mm)",yTitleX:22,series:[{data:gammaStimAmpWl,color:orange},{data:gammaBgAmpWl,color:dark}]});
panel({col:1,row:1,xTicks:sdTicks,xLabels:sdTickLabels,yTicks:wlTicksGamma,xTitle:["Standard deviation","Hilbert phase"],yTitle:"Wavelength (mm)",yTitleX:279,series:[{data:gammaStimSdWl,color:orange},{data:gammaBgSdWl,color:dark}]});
panel({col:2,row:1,xTicks:sdTicks,xLabels:sdTickLabels,yTicks:ampTicksGamma,xTitle:["Standard deviation","Hilbert phase"],yTitle:"Average amplitude (µV)",yTitleX:536,series:[{data:gammaStimSdAmp,color:orange},{data:gammaBgSdAmp,color:dark}]});

function txt(x,y,s,size,weight){ svg.append("text").attr("x",x).attr("y",y).attr("font-family",SANS)
  .attr("font-size",size).attr("font-weight",weight||"normal").attr("fill","#111").text(s); }
txt(3,17,"A",15,"bold");
txt(44,17,"Beta plane-wave events",14.5);
txt(3,313,"B",15,"bold");
txt(46,313,"Optogenetically induced gamma waves",14.5);

const legX = [449,620], legTX = [488,659];
seriesNames.forEach((n,i)=>{
  svg.append("rect").attr("x",legX[i]).attr("y",303).attr("width",28).attr("height",13).attr("fill",seriesColors[i]);
  txt(legTX[i],314,n,14);
});
</script></body></html>
